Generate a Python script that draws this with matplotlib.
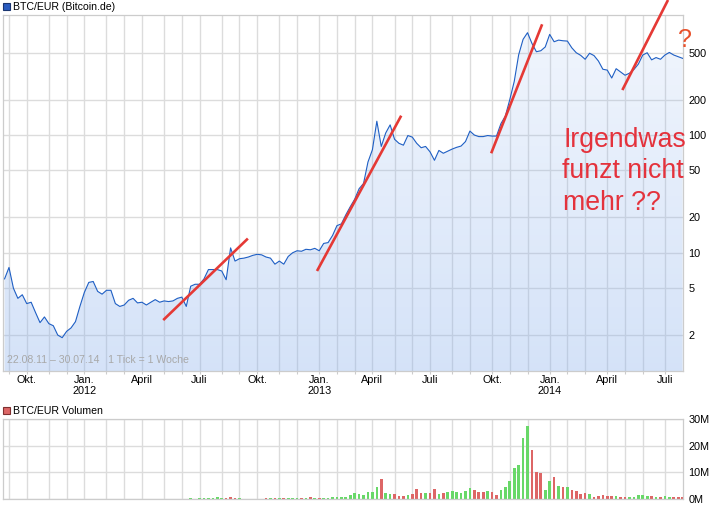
import numpy as np
import pandas as pd
import matplotlib
matplotlib.use("Agg")
import matplotlib.pyplot as plt
from matplotlib.patches import Polygon, Rectangle

plt.rcParams['font.family'] = ['Liberation Sans', 'DejaVu Sans']

W, H = 726, 508
start = pd.Timestamp('2011-08-22')

# weekly closing price BTC/EUR, weeks 1..154 after 22.08.11
price = [6.0, 7.5, 5.0, 4.1, 4.4, 3.7, 3.8, 3.1, 2.55, 2.85,
         2.5, 2.4, 2.0, 1.9, 2.15, 2.3, 2.6, 3.5, 4.6, 5.6,
         5.7, 4.7, 4.45, 4.8, 4.8, 3.7, 3.5, 3.6, 3.95, 4.1,
         3.75, 3.8, 3.6, 3.8, 4.0, 3.8, 3.9, 3.85, 3.9, 4.1,
         4.2, 3.5, 5.2, 5.4, 5.4, 6.0, 7.2, 7.2, 7.2, 7.0,
         5.9, 11.0, 8.5, 8.9, 9.0, 9.2, 9.5, 9.7, 9.6, 9.2,
         9.0, 8.0, 8.5, 8.0, 9.3, 10.0, 10.4, 10.3, 10.7, 10.6,
         10.9, 10.4, 12.0, 12.2, 14.0, 17.0, 17.6, 21, 24.6, 28.5,
         35, 38.8, 59, 75, 131, 80, 104, 122, 92, 85,
         82, 99, 96, 85, 78, 80, 72, 61, 74, 70,
         73, 76, 78.6, 80.6, 88, 108, 100, 97, 97, 99,
         98, 98, 125, 145, 200, 285, 480, 650, 740, 600,
         510, 520, 560, 716, 620, 640, 632, 628, 550, 500,
         475, 440, 495, 473, 425, 362, 356, 305, 366, 343,
         322, 335, 360, 400, 478, 500, 435, 455, 440, 478,
         503, 478, 463, 448]

# weekly volume in millions (0 = no data)
volume = [0, 0, 0, 0, 0, 0, 0, 0, 0, 0,
          0, 0, 0, 0, 0, 0, 0, 0, 0, 0,
          0, 0, 0, 0, 0, 0, 0, 0, 0, 0,
          0, 0, 0, 0, 0, 0, 0, 0, 0, 0,
          0, 0, 0.4, 0, 0.4, 0.4, 0.4, 0.4, 0.75, 0.4,
          0.4, 0.75, 0.4, 0.4, 0, 0, 0, 0, 0, 0.4,
          0.4, 0.4, 0.4, 0.4, 0.4, 0.4, 0.4, 0.4, 0.4, 0.75,
          0.4, 0.4, 0.4, 0.4, 0.75, 0.75, 0.75, 0.75, 1.5, 2.3,
          1.9, 1.5, 2.6, 2.6, 4.5, 7.5, 2.3, 1.9, 1.9, 1.1,
          1.1, 1.5, 1.9, 3.8, 2.3, 2.3, 2.3, 3.8, 1.9, 2.3,
          2.6, 3.0, 2.6, 2.3, 3.0, 4.1, 3.4, 2.6, 2.6, 3.0,
          2.6, 1.5, 3.4, 4.5, 6.8, 11.7, 12.8, 23.0, 27.5, 18.4,
          10.2, 9.8, 3.4, 6.8, 8.3, 4.9, 4.5, 4.5, 3.4, 3.0,
          1.9, 2.3, 1.9, 0.75, 1.1, 1.5, 1.1, 1.1, 1.1, 0.75,
          0.75, 0.75, 0.75, 1.5, 1.5, 1.1, 1.1, 0.75, 0.75, 1.1,
          0.75, 0.75, 0.75, 0.75]

# bar direction per week: u = green, d = red, - = none
vol_dir = list("----------"
               "----------"
               "----------"
               "----------"
               "--u-uuuuuu"
               "dddu-----d"
               "ududuuudud"
               "uduuuuuuuu"
               "uuuuuduudd"
               "duddduddud"
               "uuuuuudddu"
               "dduuuuuuud"
               "dduudududd"
               "ddudddddud"
               "duuuuududu"
               "uddd")

# hand drawn trend lines (week, price)
trend_x = [(36.8, 55.9), (71.5, 90.5), (110.8, 122.3), (140.4, 150.7)]
trend_y = [(2.68, 13.2), (7.0, 146), (70, 872), (241, 1403)]

price_ticks = [2, 5, 10, 20, 50, 100, 200, 500]
vol_ticks = [0, 10, 20, 30]
vol_labels = ['0M', '10M', '20M', '30M']
month_names = {10: 'Okt.', 1: 'Jan.', 4: 'April', 7: 'Juli'}

weeks = np.arange(1, len(price) + 1)
months = pd.date_range('2011-09-01', '2014-07-01', freq='MS')
month_pos = [np.ceil((m - start).days / 7) for m in months]
month_lab = []
for m in months:
    if m.month == 1:
        month_lab.append('Jan.\n%d' % m.year)
    else:
        month_lab.append(month_names.get(m.month, ''))

def fig_box(x0, y0, x1, y1):
    return [x0 / W, 1 - y1 / H, (x1 - x0) / W, (y1 - y0) / H]

def fpx(x, y):
    return x / W, 1 - y / H

fig = plt.figure(figsize=(W / 100, H / 100), dpi=100)
ax = fig.add_axes(fig_box(2.7, 15, 683.3, 371))
axv = fig.add_axes(fig_box(2.7, 419.3, 683.3, 499))

grid_c = '#dcdcdc'
tick_fs = 7.8

# ---- price panel
ax.set_yscale('log')
ax.set_axisbelow(True)

verts = [(weeks[0], 0.5)] + list(zip(weeks, price)) + [(weeks[-1], 0.5)]
clip = Polygon(verts, closed=True, transform=ax.transData, facecolor='none', edgecolor='none')
ax.add_patch(clip)
grad = np.zeros((256, 1, 4))
grad[..., 0] = 0.55
grad[..., 1] = 0.70
grad[..., 2] = 0.93
grad[..., 3] = np.linspace(0.12, 0.37, 256)[:, None]
im = ax.imshow(grad, extent=[0, 1, 0, 1], transform=ax.transAxes, aspect='auto',
               interpolation='bilinear', zorder=1)
im.set_clip_path(clip)
ax.set_xlim(0.58, 154.15)
ax.set_ylim(0.99, 1046)

ax.plot(weeks, price, color='#1f5fc4', lw=0.8, zorder=3)

for (x0, x1), (y0, y1) in zip(trend_x, trend_y):
    ax.plot([x0, x1], [y0, y1], color='#e53935', lw=1.9, solid_capstyle='butt',
            zorder=4, clip_on=False)

ax.set_xticks(month_pos)
ax.set_xticklabels(month_lab, fontsize=tick_fs, linespacing=1.15)
ax.yaxis.tick_right()
ax.set_yticks(price_ticks)
ax.set_yticklabels([str(t) for t in price_ticks], fontsize=tick_fs)
ax.yaxis.set_minor_locator(matplotlib.ticker.NullLocator())
ax.tick_params(axis='x', length=2.5, width=0.8, color='#cccccc', pad=0.5)
ax.tick_params(axis='y', length=0, pad=3.5)
ax.grid(True, color=grid_c, lw=1.0)
for s in ax.spines.values():
    s.set_color('#cccccc')
    s.set_linewidth(0.9)

ax.text(0.007, 0.018, '22.08.11 \u2013 30.07.14   1 Tick = 1 Woche', transform=ax.transAxes,
        fontsize=7.6, color='#a8a8a8', va='bottom', ha='left', zorder=5)

txt_c = '#e4323c'
for line, bx, by in [('Irgendwas', 563, 146.7), ('funzt nicht', 562.3, 178.3), ('mehr ??', 563, 210)]:
    fig.text(*fpx(bx, by), line, fontsize=19.2, color=txt_c, va='baseline', ha='left', zorder=6)
fig.text(*fpx(677.5, 46.5), '?', fontsize=18, color='#e8502a', va='baseline', ha='left', zorder=6)

# ---- volume panel
colors = ['#68d868' if d == 'u' else '#dd6666' for d in vol_dir]
axv.bar(weeks, volume, width=0.6, color=colors, zorder=2)
axv.set_xlim(0.58, 154.15)
axv.set_ylim(0, 30)
axv.set_axisbelow(True)
axv.set_xticks(month_pos)
axv.set_xticklabels([])
axv.yaxis.tick_right()
axv.set_yticks(vol_ticks)
axv.set_yticklabels(vol_labels, fontsize=tick_fs)
axv.tick_params(axis='x', length=0)
axv.tick_params(axis='y', length=0, pad=3.5)
axv.grid(True, color=grid_c, lw=1.0)
for s in axv.spines.values():
    s.set_color('#cccccc')
    s.set_linewidth(0.9)

# ---- legends
fig.add_artist(Rectangle(fpx(2.7, 10.3), 7.3 / W, 7.3 / H, transform=fig.transFigure,
                         facecolor='#2a5cc0', edgecolor='#1a3570', lw=0.8))
fig.text(*fpx(12.7, 6.8), 'BTC/EUR (Bitcoin.de)', fontsize=7.6, va='center', ha='left')
fig.add_artist(Rectangle(fpx(2.7, 414.3), 7.3 / W, 7.3 / H, transform=fig.transFigure,
                         facecolor='#dd6666', edgecolor='#803030', lw=0.8))
fig.text(*fpx(12.7, 410.8), 'BTC/EUR Volumen', fontsize=7.6, va='center', ha='left')

fig.savefig('out.png', dpi=100)
